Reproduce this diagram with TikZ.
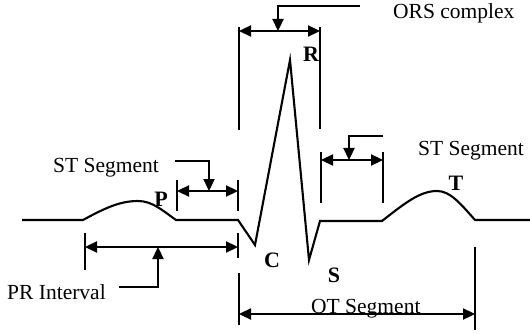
\documentclass[tikz,border=0pt]{standalone}
\usepackage{fontspec}
\setmainfont{Liberation Serif}
\usetikzlibrary{arrows.meta}
\tikzset{
  tip/.tip={Triangle[length=12pt,width=11pt]},
  dimline/.style={line width=2.3pt,{tip}-{tip}},
  ptr/.style={line width=2.3pt,-{tip},line join=miter},
  tick/.style={line width=2.6pt},
  wave/.style={line width=2.1pt,line join=miter},
  lbl/.style={font=\fontsize{21.5}{24}\selectfont,inner sep=0pt,anchor=base west},
  wlbl/.style={font=\fontsize{22}{24}\selectfont\bfseries,inner sep=0pt}
}
\begin{document}
\begin{tikzpicture}[x=1pt,y=-1pt]
\useasboundingbox (0,0) rectangle (530,334);
% ECG wave
\coordinate (w0) at (22,220);
\coordinate (pS) at (83,220);
\coordinate (pE) at (176,220);
\coordinate (q) at (238,220);
\coordinate (cc) at (255,245);
\coordinate (rr) at (290,60);
\coordinate (ss) at (309,260);
\coordinate (j) at (320,221);
\coordinate (tS) at (382,221);
\coordinate (tE) at (475,220);
\coordinate (w1) at (530,220);
\draw[wave] (w0) -- (pS) .. controls (105,208) and (120,201) .. (138,201)
  .. controls (152,201) and (162,210) .. (pE) -- (q) -- (cc) -- (rr) -- (ss) -- (j) -- (tS)
  .. controls (405,203) and (420,191) .. (437,191)
  .. controls (450,191) and (460,203) .. (tE) -- (w1);
% QRS complex
\coordinate (qa1) at (239,27); \coordinate (qa2) at (239,130);
\coordinate (qb1) at (320,27); \coordinate (qb2) at (320,129);
\coordinate (qL) at (239,31); \coordinate (qR) at (320,31);
\coordinate (qP0) at (360,6); \coordinate (qP1) at (278,6); \coordinate (qP2) at (278,31);
\draw[tick] (qa1) -- (qa2);
\draw[tick] (qb1) -- (qb2);
\draw[dimline] (qL) -- (qR);
\draw[ptr] (qP0) -- (qP1) -- (qP2);
\node[lbl] (tqrs) at (393,19) {ORS complex};
% left ST segment
\coordinate (la1) at (177,180); \coordinate (la2) at (177,211);
\coordinate (lb1) at (238,180); \coordinate (lb2) at (238,211);
\coordinate (lL) at (177,191); \coordinate (lR) at (238,191);
\coordinate (lP0) at (175,161); \coordinate (lP1) at (209,161); \coordinate (lP2) at (209,191);
\draw[tick] (la1) -- (la2);
\draw[tick] (lb1) -- (lb2);
\draw[dimline] (lL) -- (lR);
\draw[ptr] (lP0) -- (lP1) -- (lP2);
\node[lbl] (tstl) at (53,172) {ST Segment};
% right ST segment
\coordinate (ra1) at (321,152); \coordinate (ra2) at (321,203);
\coordinate (rb1) at (383,152); \coordinate (rb2) at (383,203);
\coordinate (rL) at (321,160); \coordinate (rR) at (383,160);
\coordinate (rP0) at (383,136); \coordinate (rP1) at (349,136); \coordinate (rP2) at (349,160);
\draw[tick] (ra1) -- (ra2);
\draw[tick] (rb1) -- (rb2);
\draw[dimline] (rL) -- (rR);
\draw[ptr] (rP0) -- (rP1) -- (rP2);
\node[lbl] (tstr) at (418,156) {ST Segment};
% PR interval
\coordinate (pa1) at (85,233); \coordinate (pa2) at (85,270);
\coordinate (pb1) at (238,233); \coordinate (pb2) at (238,258);
\coordinate (pL) at (85,247); \coordinate (pR) at (238,247);
\coordinate (pP0) at (119,287); \coordinate (pP1) at (158,287); \coordinate (pP2) at (158,247);
\draw[tick] (pa1) -- (pa2);
\draw[tick] (pb1) -- (pb2);
\draw[dimline] (pL) -- (pR);
\draw[ptr] (pP0) -- (pP1) -- (pP2);
\node[lbl] (tpr) at (7,299) {PR Interval};
% QT segment
\coordinate (ta1) at (239,273); \coordinate (ta2) at (239,325);
\coordinate (tb1) at (475,247); \coordinate (tb2) at (475,330);
\coordinate (tL) at (239,314); \coordinate (tR) at (475,314);
\draw[tick] (ta1) -- (ta2);
\draw[tick] (tb1) -- (tb2);
\draw[dimline] (tL) -- (tR);
\node[lbl] (tqt) at (311,313) {OT Segment};
% wave labels
\node[wlbl] (lP) at (161,199) {P};
\node[wlbl] (lR) at (311,54) {R};
\node[wlbl] (lC) at (272,260) {C};
\node[wlbl] (lS) at (334,275) {S};
\node[wlbl] (lT) at (456,183) {T};
\end{tikzpicture}
\end{document}
